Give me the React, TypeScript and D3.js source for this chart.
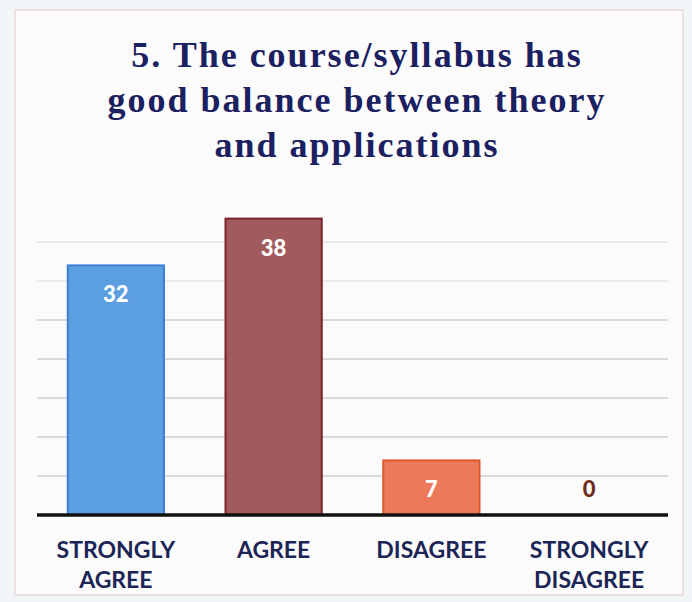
import { useEffect, useRef } from "react";
import * as d3 from "d3";

const categories = ["STRONGLY AGREE", "AGREE", "DISAGREE", "STRONGLY DISAGREE"];
const labelLines = [["STRONGLY", "AGREE"], ["AGREE"], ["DISAGREE"], ["STRONGLY", "DISAGREE"]];
const values = [32, 38, 7, 0];
const barColors = ["#5c9fe0", "#a15b5f", "#ec7a5a", "#999999"];
const barStrokes = ["#3b80d2", "#7d2428", "#df5630", "#777777"];
const gridTicks = [5, 10, 15, 20, 25, 30, 35];
const titleLines = [
  "5. The course/syllabus has",
  "good balance between theory",
  "and applications",
];

const WIDTH = 692;
const HEIGHT = 602;

const App = () => {
  const ref = useRef<SVGSVGElement | null>(null);

  useEffect(() => {
    document.body.style.margin = "0";
    const svg = d3.select(ref.current);
    svg.selectAll("*").remove();

    // page background + faint slide border
    svg.append("rect").attr("width", WIDTH).attr("height", HEIGHT).attr("fill", "#f3f6f9");
    svg
      .append("rect")
      .attr("x", 15)
      .attr("y", 10)
      .attr("width", 668)
      .attr("height", 585)
      .attr("fill", "#fbfbfc")
      .attr("stroke", "#ead9d9")
      .attr("stroke-width", 1.5);

    // title
    svg
      .append("g")
      .selectAll("text")
      .data(titleLines)
      .enter()
      .append("text")
      .attr("x", 357)
      .attr("y", (d, i) => 67 + i * 45)
      .attr("text-anchor", "middle")
      .style("font-family", "'Liberation Serif', 'DejaVu Serif', serif")
      .style("font-weight", "bold")
      .style("font-size", "36px")
      .style("letter-spacing", "2px")
      .attr("fill", "#1b2060")
      .text((d) => d);

    const x = d3
      .scaleBand()
      .domain(categories)
      .range([37, 668])
      .paddingInner(0.39)
      .paddingOuter(0.195);

    const y = d3.scaleLinear().domain([0, 40]).range([515, 203]);

    // gridlines
    svg
      .append("g")
      .selectAll("line")
      .data(gridTicks)
      .enter()
      .append("line")
      .attr("x1", 37)
      .attr("x2", 668)
      .attr("y1", (d) => y(d))
      .attr("y2", (d) => y(d))
      .attr("stroke", (d) => (d > 25 ? "#e6d3d6" : "#bdb8bc"))
      .attr("stroke-width", 1.2);

    // bars
    svg
      .append("g")
      .selectAll("rect")
      .data(values)
      .enter()
      .append("rect")
      .attr("x", (d, i) => x(categories[i]) as number)
      .attr("y", (d) => y(d))
      .attr("width", x.bandwidth())
      .attr("height", (d) => y(0) - y(d))
      .attr("fill", (d, i) => barColors[i])
      .attr("stroke", (d, i) => barStrokes[i])
      .attr("stroke-width", (d) => (d > 0 ? 2 : 0));

    // baseline
    svg
      .append("line")
      .attr("x1", 37)
      .attr("x2", 668)
      .attr("y1", y(0))
      .attr("y2", y(0))
      .attr("stroke", "#111111")
      .attr("stroke-width", 3.5);

    // value labels
    svg
      .append("g")
      .selectAll("text")
      .data(values)
      .enter()
      .append("text")
      .attr("x", (d, i) => (x(categories[i]) as number) + x.bandwidth() / 2)
      .attr("y", (d) => Math.min(y(d) + 37, y(0) - 18))
      .attr("text-anchor", "middle")
      .style("font-family", "Lato, 'Open Sans', sans-serif")
      .style("font-weight", "900")
      .style("font-size", "22px")
      .attr("fill", (d) => (d > 0 ? "#ffffff" : "#6e2c20"))
      .text((d) => d);

    // category labels
    const labels = svg
      .append("g")
      .selectAll("text")
      .data(labelLines)
      .enter()
      .append("text")
      .attr("x", (d, i) => (x(categories[i]) as number) + x.bandwidth() / 2)
      .attr("y", 558)
      .attr("text-anchor", "middle")
      .style("font-family", "Lato, 'Open Sans', sans-serif")
      .style("font-weight", "bold")
      .style("font-size", "23px")
      .attr("fill", "#1b2656");

    labels
      .selectAll("tspan")
      .data((d) => d)
      .enter()
      .append("tspan")
      .attr("x", function () {
        return (this.parentNode as SVGTextElement).getAttribute("x");
      })
      .attr("dy", (d, i) => (i === 0 ? 0 : 30))
      .text((d) => d);
  }, []);

  return <svg ref={ref} width={WIDTH} height={HEIGHT} style={{ display: "block" }} />;
};

export default App;
